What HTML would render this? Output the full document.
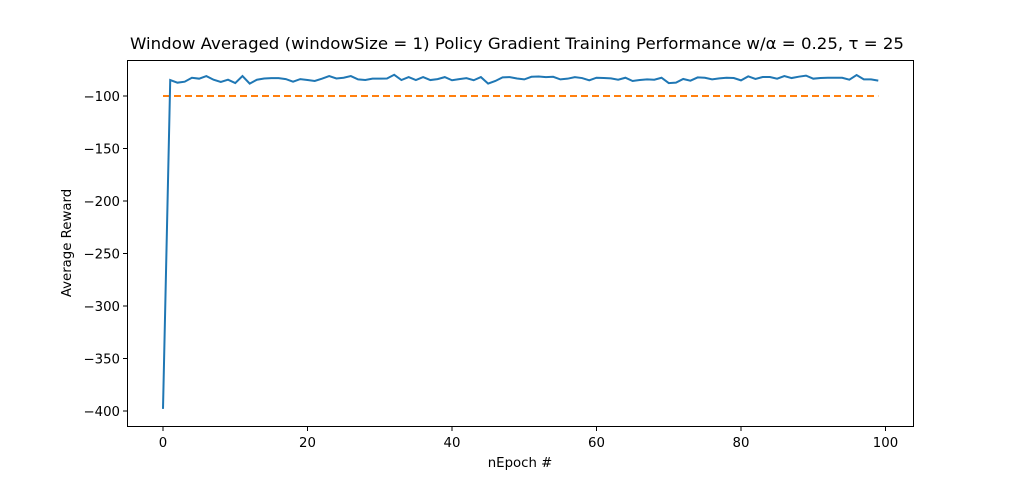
<!DOCTYPE html>
<html><head><meta charset="utf-8"><style>
body{margin:0;background:#fff}
svg{font-family:"DejaVu Sans","Liberation Sans",sans-serif;display:block}
</style></head><body>
<svg id="chart" width="1015" height="480">
<rect width="1015" height="480" fill="#fff"/>
<text x="517" y="49" font-size="16" text-anchor="middle" textLength="774" lengthAdjust="spacingAndGlyphs">Window Averaged (windowSize = 1) Policy Gradient Training Performance w/α = 0.25, τ = 25</text>
<g id="plot"></g>
<rect x="127.5" y="60.5" width="786" height="366" fill="none" stroke="#000" stroke-width="1"/>
<text x="520" y="467" font-size="13.3" text-anchor="middle">nEpoch #</text>
<text transform="translate(71,243) rotate(-90)" font-size="13.3" text-anchor="middle">Average Reward</text>
</svg>
<script>
const rewards = [-398,-84.8,-87.3,-86.4,-82.6,-83.5,-81,-84.5,-86.6,-84.5,-87.7,-81,-88.2,-84.5,-83.3,-83,-83,-83.9,-86.4,-83.9,-84.8,-85.7,-83.5,-81,-83.3,-82.6,-81,-84.2,-84.8,-83.5,-83.5,-83.3,-79.8,-84.8,-82,-84.8,-82,-84.8,-83.9,-82,-85,-83.9,-83,-85,-82,-88.2,-85.7,-82.3,-82,-83.3,-84.2,-81.7,-81.4,-82,-81.7,-84.2,-83.5,-82,-82.9,-85.1,-82.6,-82.9,-83.2,-84.5,-82.6,-85.7,-84.8,-84.2,-84.5,-82.6,-87.7,-87.3,-83.8,-85.4,-82.3,-82.6,-84.2,-83.2,-82.6,-82.9,-85.1,-81.3,-83.8,-81.9,-81.9,-83.5,-81,-82.9,-81.6,-80.6,-83.5,-82.9,-82.6,-82.6,-82.6,-84.5,-80,-84.2,-84.2,-85.4];
const baseline = -100;
const xTicks = [0,20,40,60,80,100];
const yTicks = [-100,-150,-200,-250,-300,-350,-400];
const NS='http://www.w3.org/2000/svg';
const xs = v => 163 + v*7.225;
const ys = v => 96 - (v - (-100))*1.05;
const g = document.getElementById('plot');
function mk(tag, attrs){const e=document.createElementNS(NS,tag);for(const k in attrs)e.setAttribute(k,attrs[k]);g.appendChild(e);return e;}
xTicks.forEach(t=>{
  const l=mk('line',{x1:xs(t),x2:xs(t),y1:427,y2:431,stroke:'#000'});
  
  
  const tx=mk('text',{x:xs(t),y:447,'font-size':13.3,'text-anchor':'middle'});tx.textContent=t;
  
  
});
yTicks.forEach(t=>{
  const l=mk('line',{x1:123,x2:127,y1:ys(t),y2:ys(t),stroke:'#000'});
  
  
  const tx=mk('text',{x:120,y:ys(t)+5,'font-size':13.3,'text-anchor':'end'});tx.textContent='\u2212'+Math.abs(t);
  
  
});
const bl=mk('line',{x1:xs(0),x2:xs(rewards.length-1),y1:ys(baseline),y2:ys(baseline),stroke:'#ff7f0e','stroke-width':2,'stroke-dasharray':'7,4'});


const p=mk('polyline',{points:rewards.map((v,i)=>xs(i)+','+ys(v)).join(' '),fill:'none',stroke:'#1f77b4','stroke-width':2});


</script>
</body></html>
